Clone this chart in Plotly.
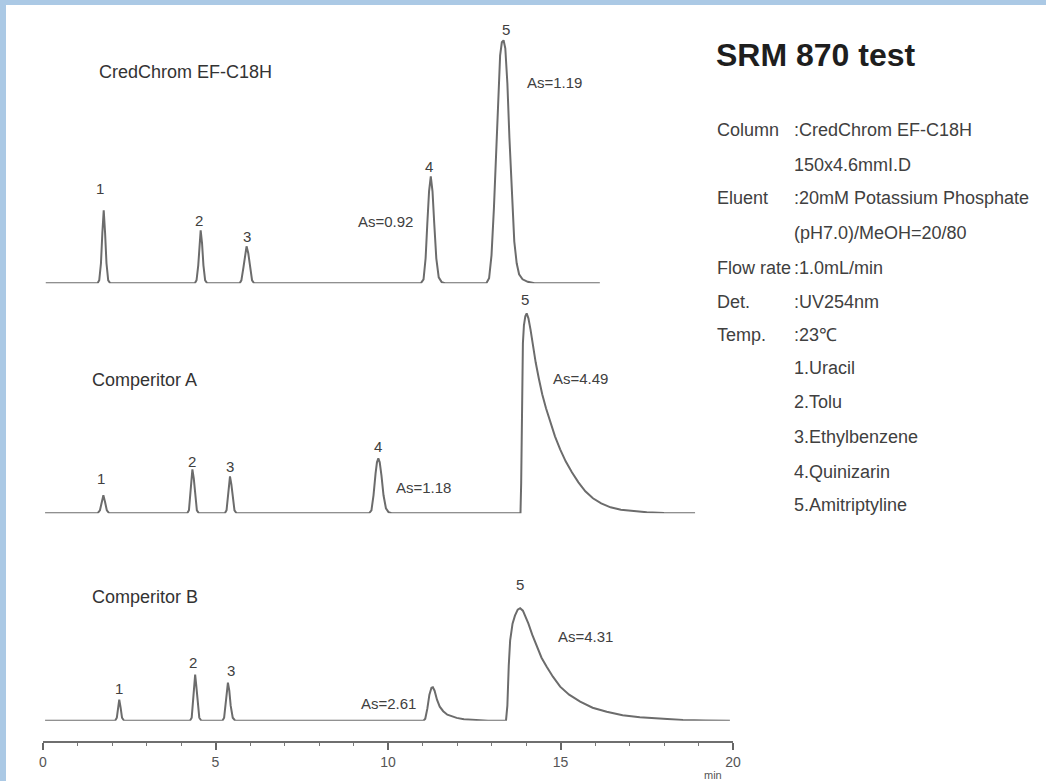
import plotly.graph_objects as go

# ---------------- data (time in min, signal in arbitrary units) ----------------
t_cred = [0.08, 1.58, 1.63, 1.68, 1.72, 1.76, 1.80, 1.84, 1.89, 1.95,
          4.40, 4.45, 4.50, 4.54, 4.57, 4.61, 4.65, 4.70, 4.76,
          5.70, 5.75, 5.81, 5.86, 5.90, 5.95, 6.00, 6.06, 6.12,
          10.95, 11.03, 11.09, 11.14, 11.19, 11.24, 11.29, 11.34, 11.40, 11.47, 11.56, 11.65,
          12.85, 12.93, 13.00, 13.07, 13.13, 13.19, 13.25, 13.30, 13.35, 13.40, 13.46, 13.52,
          13.59, 13.66, 13.73, 13.80, 13.90, 14.05, 14.25, 16.14]
s_cred = [0, 0, 3, 20, 50, 73, 50, 20, 3, 0,
          0, 3, 18, 40, 53, 40, 18, 3, 0,
          0, 3, 16, 30, 37, 30, 16, 3, 0,
          0, 4, 25, 60, 92, 107, 92, 60, 25, 6, 1, 0,
          0, 5, 28, 75, 130, 185, 228, 241, 243, 235, 200, 145,
          85, 42, 20, 9, 4, 1.5, 0, 0]

t_compA = [0.06, 1.58, 1.65, 1.70, 1.75, 1.80, 1.85, 1.92,
           4.18, 4.23, 4.27, 4.30, 4.33, 4.37, 4.41, 4.46, 4.52,
           5.27, 5.32, 5.36, 5.39, 5.42, 5.46, 5.50, 5.55, 5.61,
           9.45, 9.52, 9.58, 9.64, 9.68, 9.72, 9.76, 9.81, 9.87, 9.94, 10.02, 10.10,
           13.84, 13.86, 13.88, 13.91, 13.94, 13.98, 14.02, 14.07, 14.13, 14.20, 14.28,
           14.37, 14.47, 14.58, 14.70, 14.84, 14.99, 15.15, 15.33, 15.52, 15.72, 15.94,
           16.18, 16.45, 16.75, 17.10, 17.50, 18.00, 18.90]
s_compA = [0, 0, 3, 11, 18, 11, 3, 0,
           0, 3, 17, 35, 44, 35, 17, 3, 0,
           0, 3, 15, 29, 37, 29, 15, 3, 0,
           0, 3, 18, 40, 51, 55, 51, 38, 18, 5, 1, 0,
           0, 30, 100, 170, 188, 197, 200, 195, 184, 168, 151,
           135, 119, 105, 91, 77, 64, 52, 41, 31, 22, 15,
           10, 6, 3.5, 2, 1, 0.3, 0]

t_compB = [0.06, 2.09, 2.14, 2.18, 2.21, 2.25, 2.29, 2.35,
           4.26, 4.31, 4.35, 4.38, 4.41, 4.44, 4.48, 4.53, 4.59,
           5.20, 5.25, 5.29, 5.33, 5.36, 5.40, 5.44, 5.50, 5.57,
           11.03, 11.08, 11.14, 11.20, 11.26, 11.30, 11.35, 11.42, 11.50, 11.60, 11.72,
           11.86, 11.99, 12.20, 12.50, 12.90,
           13.42, 13.46, 13.50, 13.54, 13.61, 13.68, 13.76, 13.83, 13.91, 13.99, 14.07,
           14.18, 14.31, 14.45, 14.60, 14.78, 14.99, 15.25, 15.57, 15.93, 16.34, 16.80,
           17.30, 17.90, 18.55, 19.20, 19.91]
s_compB = [0, 0, 3, 13, 21, 13, 3, 0,
           0, 3, 18, 36, 46, 36, 18, 3, 0,
           0, 3, 15, 30, 38, 30, 15, 3, 0,
           0, 2, 12, 26, 33, 33.5, 30, 21, 14, 9.5, 6,
           4, 2.8, 1.5, 0.6, 0,
           0, 15, 55, 80, 97, 105, 111, 112.5, 110, 104, 97,
           86, 74, 63, 54, 44, 34, 26, 19, 13, 9, 5.5,
           3.5, 1.8, 0.7, 0.2, 0]

# peak number labels (time, signal) per trace
peak_ids = ["1", "2", "3", "4", "5"]
cred_lbl_t = [1.65, 4.53, 5.90, 11.20, 13.42]
cred_lbl_s = [95, 63, 47, 117, 254]
compA_lbl_t = [1.67, 4.31, 5.42, 9.72, 13.97]
compA_lbl_s = [35, 52, 47, 67, 214]
compB_ids = ["1", "2", "3", "5"]
compB_lbl_t = [2.21, 4.34, 5.46, 13.83]
compB_lbl_s = [32, 58, 50, 136]

# asymmetry labels
cred_as = ["As=0.92", "As=1.19"]
cred_as_t = [9.94, 14.84]
cred_as_s = [62, 201]
compA_as = ["As=1.18", "As=4.49"]
compA_as_t = [11.02, 15.57]
compA_as_s = [26, 135]
compB_as = ["As=2.61", "As=4.31"]
compB_as_t = [10.01, 15.71]
compB_as_s = [17, 84]

trace_names = ["CredChrom EF-C18H", "Comperitor A", "Comperitor B"]

x_ticks = [0, 5, 10, 15, 20]

title_text = "SRM 870 test"
cond_labels = ["Column", "", "Eluent", "", "Flow rate", "Det.", "Temp.",
               "", "", "", "", ""]
cond_values = [":CredChrom EF-C18H", "150x4.6mmI.D", ":20mM Potassium Phosphate",
               "(pH7.0)/MeOH=20/80", ":1.0mL/min", ":UV254nm", ":23℃",
               "1.Uracil", "2.Tolu", "3.Ethylbenzene", "4.Quinizarin", "5.Amitriptyline"]

# ---------------- layout helpers (pixel geometry) ----------------
W, H = 1046, 781
ML, MR, MT, MB = 43, 313, 5, 39
PW, PH = W - ML - MR, H - MT - MB
AXIS_Y = H - MB


def py(pix):
    """pixel row -> paper y"""
    return (AXIS_Y - pix) / PH


def px(pix):
    """pixel column -> paper x"""
    return (pix - ML) / PW


FONT = "Liberation Sans, Arial, Helvetica, sans-serif"
LINE_COLOR = "#6c6c6c"
TEXT_COLOR = "#404040"

fig = go.Figure()

# baselines (pixel rows) and vertical extents for the three stacked axes
stack = [("y3", 283.3, 275), ("y2", 513.3, 225), ("y", 720.7, 140)]
series = [(t_cred, s_cred), (t_compA, s_compA), (t_compB, s_compB)]

for (yref, base, span), (tt, ss) in zip(stack, series):
    fig.add_trace(go.Scatter(x=tt, y=ss, mode="lines", yaxis=yref,
                             line=dict(color=LINE_COLOR, width=2),
                             hoverinfo="skip", showlegend=False))

annotations = []


def add_text(text, x, y, xref, yref, size, color=TEXT_COLOR, xanchor="center",
             bold=False):
    annotations.append(dict(text=f"<b>{text}</b>" if bold else text, x=x, y=y,
                            xref=xref, yref=yref, showarrow=False,
                            xanchor=xanchor, yanchor="middle",
                            font=dict(family=FONT, size=size, color=color)))


# trace names
add_text(trace_names[0], 1.565, 211, "x", "y3", 18, "#333", "left")
add_text(trace_names[1], 1.36, 133, "x", "y2", 18, "#333", "left")
add_text(trace_names[2], 1.36, 124, "x", "y", 18, "#333", "left")

for lbl, tt, ss in zip(peak_ids, cred_lbl_t, cred_lbl_s):
    add_text(lbl, tt, ss, "x", "y3", 15)
for lbl, tt, ss in zip(peak_ids, compA_lbl_t, compA_lbl_s):
    add_text(lbl, tt, ss, "x", "y2", 15)
for lbl, tt, ss in zip(compB_ids, compB_lbl_t, compB_lbl_s):
    add_text(lbl, tt, ss, "x", "y", 15)

for lbl, tt, ss in zip(cred_as, cred_as_t, cred_as_s):
    add_text(lbl, tt, ss, "x", "y3", 15)
for lbl, tt, ss in zip(compA_as, compA_as_t, compA_as_s):
    add_text(lbl, tt, ss, "x", "y2", 15)
for lbl, tt, ss in zip(compB_as, compB_as_t, compB_as_s):
    add_text(lbl, tt, ss, "x", "y", 15)

# "min" axis unit
add_text("min", px(713), py(775), "paper", "paper", 11, "#555")

# right-hand info block
add_text(title_text, px(714), py(55), "paper", "paper", 32, "#1e1e1e", "left", bold=True)
row_y = [130, 165, 198, 233, 268, 302, 335, 368, 402, 437, 472, 505]
for lab, val, ry in zip(cond_labels, cond_values, row_y):
    if lab:
        add_text(lab, px(715), py(ry), "paper", "paper", 18, TEXT_COLOR, "left")
    add_text(val, px(792), py(ry), "paper", "paper", 18, TEXT_COLOR, "left")

layout_axes = {}
names = {"y": "yaxis", "y2": "yaxis2", "y3": "yaxis3"}
for yref, base, span in stack:
    layout_axes[names[yref]] = dict(domain=[py(base), py(base - span)],
                                    range=[0, span], visible=False,
                                    anchor="x", fixedrange=True)

fig.update_layout(
    width=W, height=H,
    margin=dict(l=ML, r=MR, t=MT, b=MB, pad=0),
    paper_bgcolor="#abc9e5",
    plot_bgcolor="rgba(0,0,0,0)",
    annotations=annotations,
    showlegend=False,
    xaxis=dict(range=[0, 20], anchor="free", position=0,
               tickvals=x_ticks, ticktext=[str(v) for v in x_ticks],
               ticks="outside", ticklen=7, tickwidth=1.5, tickcolor="#666",
               minor=dict(dtick=1, ticks="outside", ticklen=3, tickwidth=1.2,
                          tickcolor="#777"),
               showline=True, linecolor="#6f6f6f", linewidth=1.5,
               showgrid=False, zeroline=False, fixedrange=True,
               tickfont=dict(family=FONT, size=14, color="#555")),
    shapes=[dict(type="rect", xref="paper", yref="paper",
                 x0=px(6), x1=px(W + 2), y0=py(H + 2), y1=py(5),
                 fillcolor="white", line=dict(width=0), layer="below")],
    **layout_axes,
)

fig.write_html("out.html")
